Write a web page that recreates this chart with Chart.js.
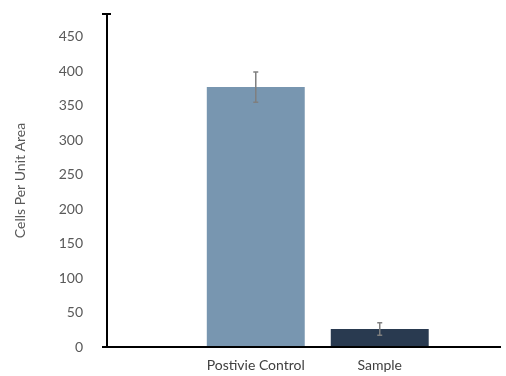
<!DOCTYPE html>
<html>
<head>
<meta charset="utf-8">
<script src="https://cdn.jsdelivr.net/npm/chart.js@4/dist/chart.umd.min.js"></script>
<style>
html, body { margin: 0; padding: 0; background: #fff; }
#wrap { width: 506px; height: 376px; }
</style>
</head>
<body>
<div id="wrap"><canvas id="barChart"></canvas></div>
<script>
var categories = ["Postivie Control", "Sample"];
var cellCounts = [377, 26];
var errors = [22, 9];
var barColors = ["#7896B0", "#293A50"];
var yTicks = [0, 50, 100, 150, 200, 250, 300, 350, 400, 450];
var yMax = 483;

var font = { family: "Lato", size: 14 };

// error bars + little cap on top of the y axis
var errorBars = {
    id: "errorBars",
    afterDatasetsDraw: function (chart) {
        var ctx = chart.ctx;
        var y = chart.scales.y;
        var meta = chart.getDatasetMeta(0);
        ctx.save();
        ctx.strokeStyle = "#7f7f7f";
        ctx.lineWidth = 1.5;
        meta.data.forEach(function (bar, i) {
            var top = y.getPixelForValue(cellCounts[i] + errors[i]);
            var bottom = y.getPixelForValue(cellCounts[i] - errors[i]);
            ctx.beginPath();
            ctx.moveTo(bar.x, top);
            ctx.lineTo(bar.x, bottom);
            ctx.moveTo(bar.x - 2.5, top);
            ctx.lineTo(bar.x + 2.5, top);
            ctx.moveTo(bar.x - 2.5, bottom);
            ctx.lineTo(bar.x + 2.5, bottom);
            ctx.stroke();
        });
        // cap at top of y axis
        var a = chart.chartArea;
        ctx.strokeStyle = "#000";
        ctx.lineWidth = 2;
        ctx.beginPath();
        ctx.moveTo(a.left - 5, a.top);
        ctx.lineTo(a.left + 4, a.top);
        ctx.stroke();
        ctx.restore();
    }
};

new Chart(document.getElementById("barChart"), {
    type: "bar",
    data: {
        datasets: [{
            data: categories.map(function (c, i) {
                return { x: i + 1, y: cellCounts[i] };
            }),
            backgroundColor: barColors,
            borderWidth: 0,
            barPercentage: 0.79,
            categoryPercentage: 1
        }]
    },
    options: {
        responsive: true,
        maintainAspectRatio: false,
        animation: false,
        layout: { padding: { top: 14, right: 6, bottom: 0, left: 0 } },
        plugins: {
            legend: { display: false },
            tooltip: { enabled: false }
        },
        scales: {
            x: {
                type: "linear",
                offset: false,
                min: -0.2,
                max: 2.97,
                afterBuildTicks: function (s) {
                    s.ticks = categories.map(function (c, i) { return { value: i + 1 }; });
                },
                afterFit: function (s) { s.height = 29; },
                ticks: {
                    callback: function (v) { return categories[v - 1]; },
                    color: "#404040",
                    font: font,
                    padding: 10,
                    maxRotation: 0
                },
                grid: { display: false, drawTicks: false, offset: false },
                border: { color: "#000", width: 2 }
            },
            y: {
                min: 0,
                max: yMax,
                afterBuildTicks: function (s) {
                    s.ticks = yTicks.map(function (v) { return { value: v }; });
                },
                afterFit: function (s) {
                    s.width = 107;
                    s.paddingTop = 0;
                    s.paddingBottom = 0;
                },
                ticks: { color: "#595959", font: font, padding: 19 },
                grid: {
                    drawOnChartArea: false,
                    tickLength: 5,
                    lineWidth: 2,
                    color: function (c) {
                        return c.tick && c.tick.value === 0 ? "#000" : "rgba(0,0,0,0)";
                    }
                },
                border: { color: "#000", width: 2 },
                title: {
                    display: true,
                    text: "Cells Per Unit Area",
                    color: "#595959",
                    font: font,
                    padding: { top: 12, bottom: 0 }
                }
            }
        }
    },
    plugins: [errorBars]
});
</script>
</body>
</html>
